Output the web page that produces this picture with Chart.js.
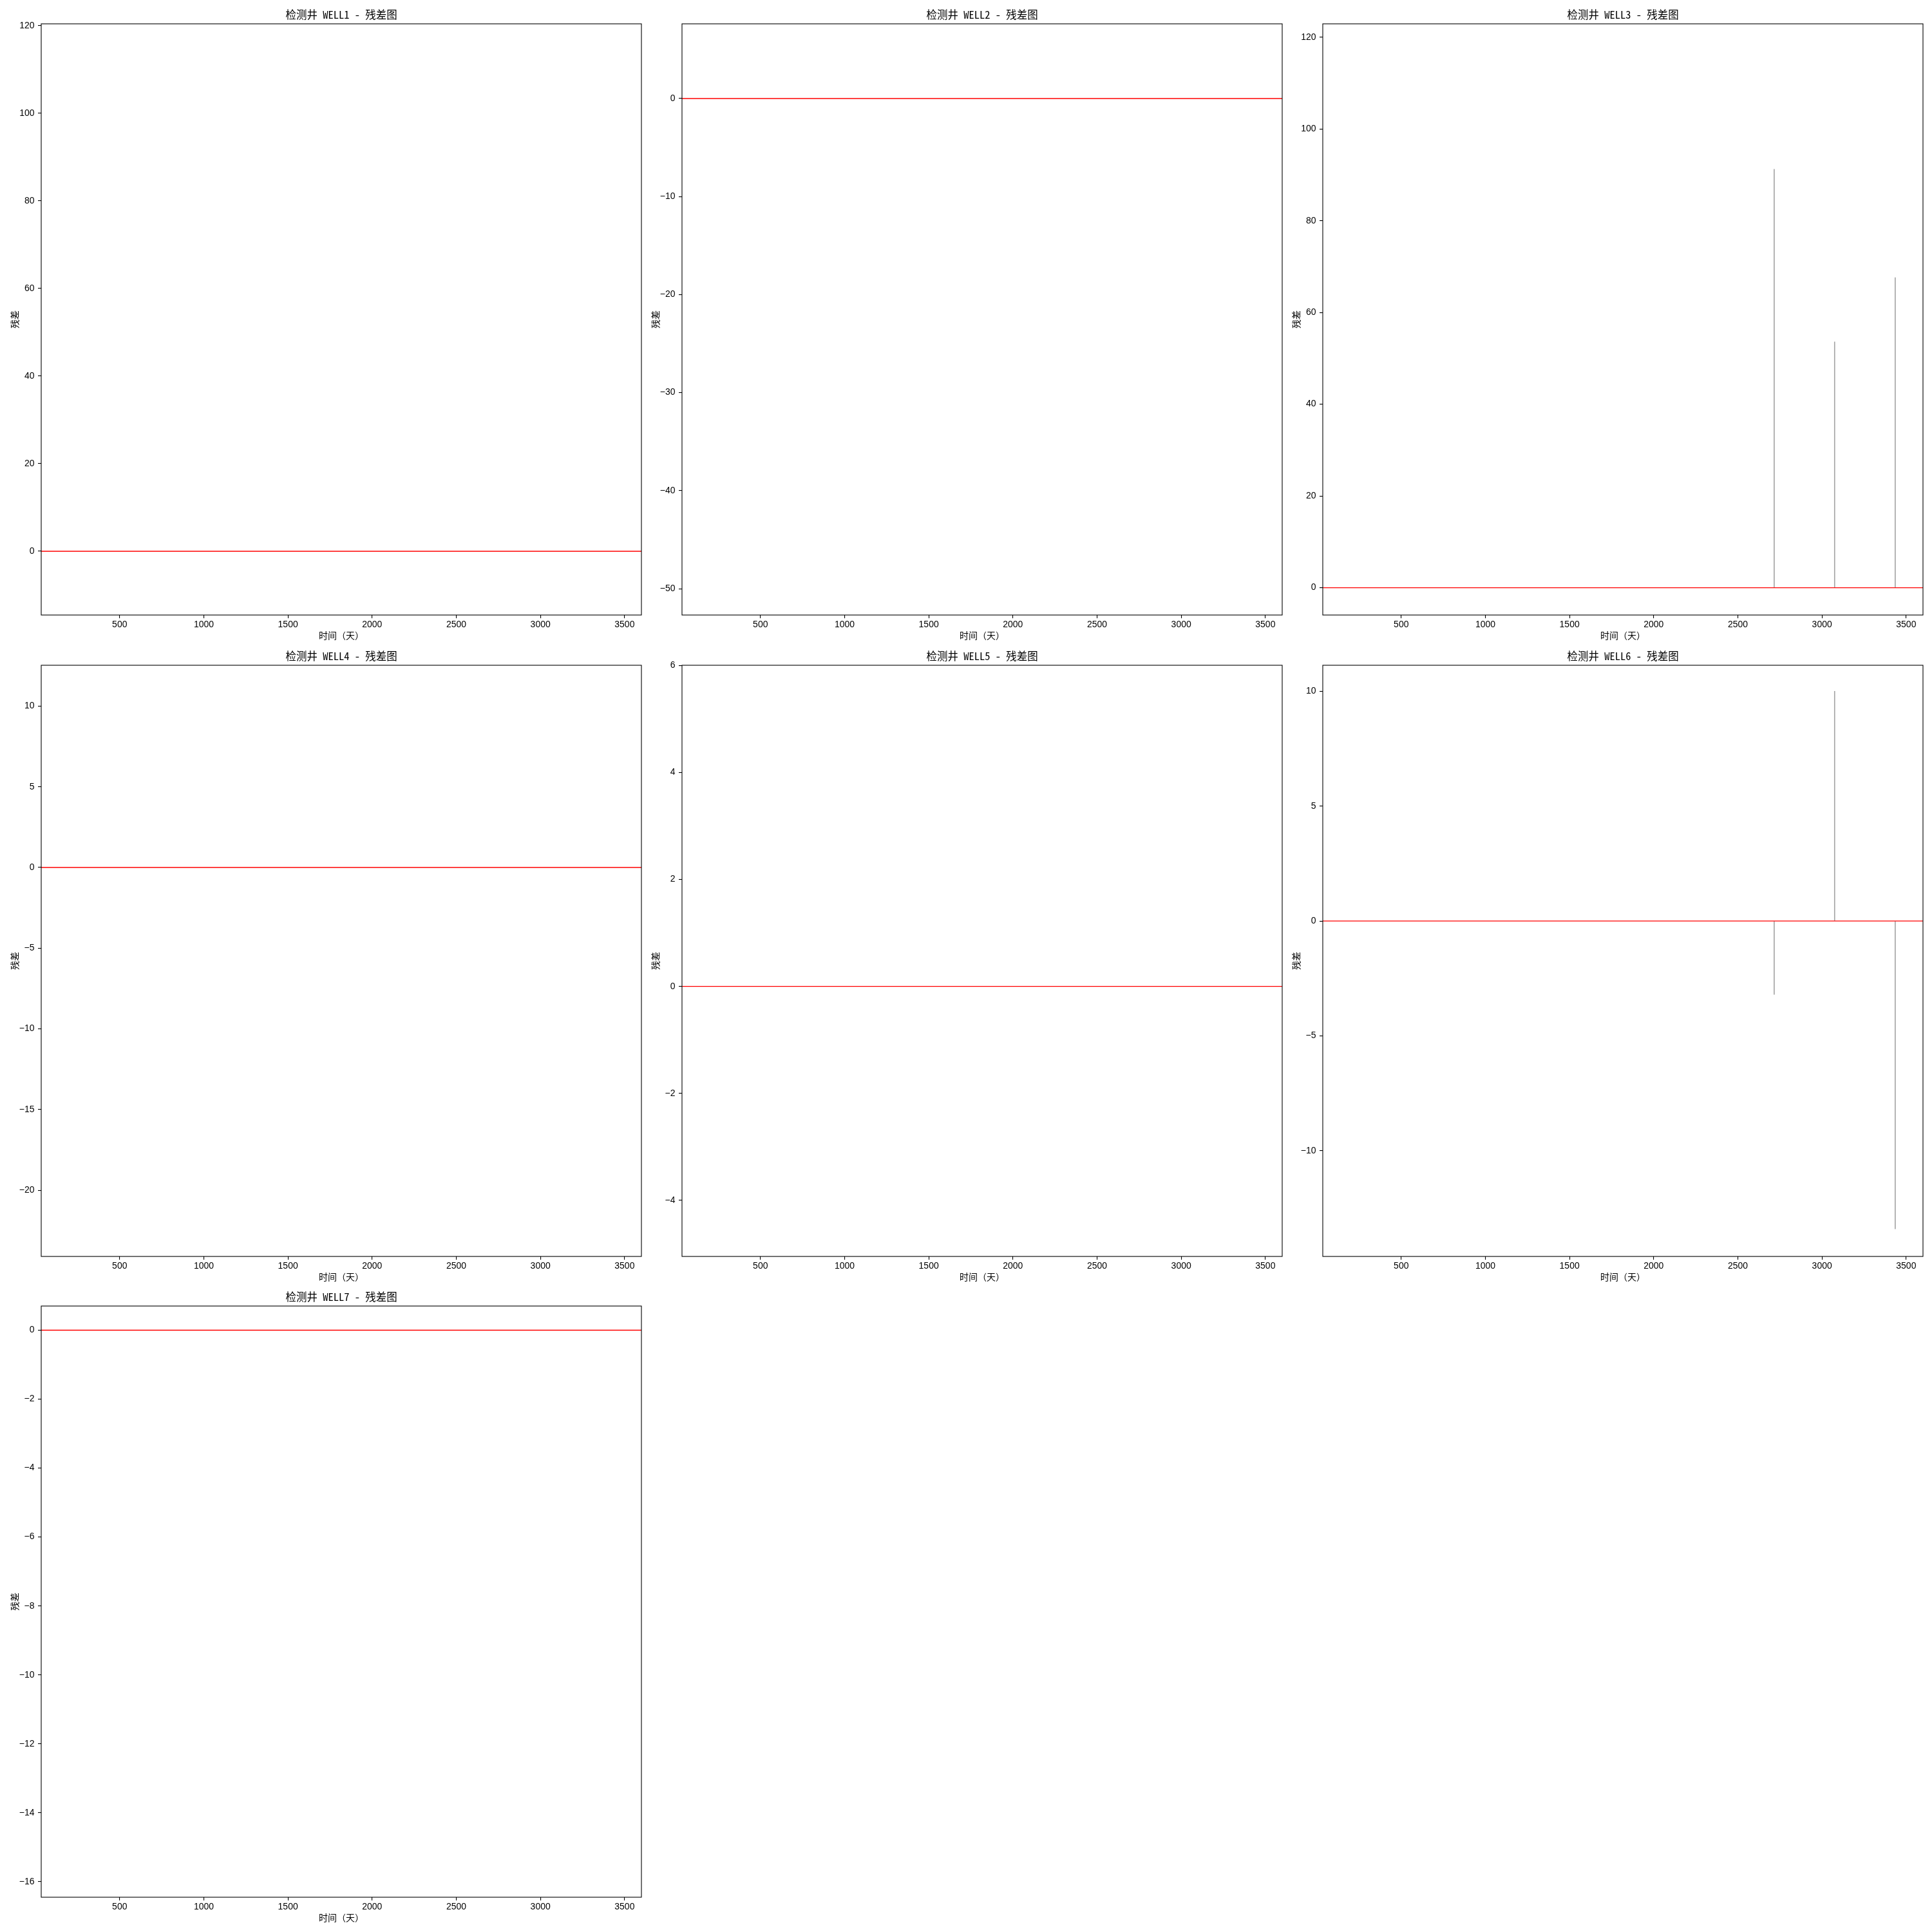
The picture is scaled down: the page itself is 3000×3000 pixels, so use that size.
<!DOCTYPE html>
<html><head><meta charset="utf-8">
<script src="https://cdn.jsdelivr.net/npm/chart.js@4/dist/chart.umd.min.js"></script>
<style>
html,body{margin:0;padding:0;background:#fff;}
body{width:3000px;height:3000px;position:relative;overflow:hidden;}
canvas{position:absolute;}
</style></head><body>
<script>
// ---- data ----
const wells = ['WELL1','WELL2','WELL3','WELL4','WELL5','WELL6','WELL7'];
const titles = wells.map(w => '检测井 ' + w + ' - 残差图');
const xLabel = '时间（天）';
const yLabel = '残差';
const xRange = [34, 3600];
const xTicks = [500, 1000, 1500, 2000, 2500, 3000, 3500];
const yRanges = [[-14.56,120.44],[-52.69,7.62],[-5.95,122.9],[-24.1,12.53],[-5.05,6.005],[-14.6,11.13],[-16.45,0.7]];
const yTicks = [
  [0,20,40,60,80,100,120],
  [-50,-40,-30,-20,-10,0],
  [0,20,40,60,80,100,120],
  [-20,-15,-10,-5,0,5,10],
  [-4,-2,0,2,4,6],
  [-10,-5,0,5,10],
  [-16,-14,-12,-10,-8,-6,-4,-2,0]
];
const residualDays   = [[],[],[2716,3075,3435],[],[],[2716,3075,3435],[]];
const residualValues = [[],[],[91.2,53.6,67.6],[],[],[-3.2,10.0,-13.4],[]];
const zeroLine = [0, 0];

// ---- layout / style ----
const colLefts = [64, 1059, 2054];
const rowTops = [37, 1033, 2028];
const plotW = 932, plotH = 918;
const yAxisW = 64, titleH = 37, xAxisH = 41, rightPad = 3;
const tickFont = {family: "'Liberation Sans Narrow','Liberation Sans',sans-serif", size: 14};
const cjkFamily = "'Noto Sans Mono CJK SC','Noto Sans CJK SC',sans-serif";
const fmt = v => String(v).replace('-', '\u2212');

const framePlugin = {
  id: 'frame',
  afterDraw(chart) {
    const {ctx, chartArea: a} = chart;
    ctx.save();
    ctx.strokeStyle = '#000';
    ctx.lineWidth = 1.1;
    ctx.strokeRect(a.left, a.top, a.right - a.left, a.bottom - a.top);
    ctx.restore();
  }
};

const panelTitlePlugin = {
  id: 'panelTitle',
  afterDraw(chart, args, opts) {
    const {ctx, chartArea: a} = chart;
    ctx.save();
    ctx.font = '16.5px ' + cjkFamily;
    ctx.fillStyle = '#000';
    ctx.textAlign = 'center';
    ctx.textBaseline = 'middle';
    ctx.fillText(opts.text, (a.left + a.right) / 2, a.top - 14);
    ctx.restore();
  }
};

wells.forEach((w, i) => {
  const col = i % 3, row = Math.floor(i / 3);
  const cv = document.createElement('canvas');
  const W = yAxisW + plotW + rightPad, H = titleH + plotH + xAxisH;
  cv.width = W; cv.height = H;
  cv.style.width = W + 'px'; cv.style.height = H + 'px';
  cv.style.left = (colLefts[col] - yAxisW) + 'px';
  cv.style.top = (rowTops[row] - titleH) + 'px';
  document.body.appendChild(cv);

  const bars = residualDays[i].map((d, k) => ({x: d, y: residualValues[i][k]}));
  const line = xRange.map((x, k) => ({x: x, y: zeroLine[k]}));

  new Chart(cv, {
    type: 'bar',
    data: {
      datasets: [
        {type: 'line', data: line, borderColor: '#ff0000', borderWidth: 1.4, pointRadius: 0, fill: false, tension: 0},
        {type: 'bar', data: bars, backgroundColor: '#a6a6a6', borderWidth: 0, barThickness: 1, grouped: false}
      ]
    },
    options: {
      responsive: false,
      animation: false,
      devicePixelRatio: 1,
      layout: {padding: {left: 0, top: titleH, right: rightPad, bottom: 0}},
      plugins: {
        legend: {display: false},
        tooltip: {enabled: false},
        title: {display: false},
        panelTitle: {text: titles[i]}
      },
      scales: {
        x: {
          type: 'linear', min: xRange[0], max: xRange[1], offset: false,
          afterBuildTicks: s => { s.ticks = xTicks.map(v => ({value: v})); },
          afterFit: s => { s.height = xAxisH; },
          grid: {offset: false, drawOnChartArea: false, drawTicks: true, tickLength: 5, color: '#000', lineWidth: 1.1},
          border: {display: false},
          ticks: {color: '#000', font: tickFont, padding: 2, maxRotation: 0, autoSkip: false, callback: v => fmt(v)},
          title: {display: true, text: xLabel, color: '#000', font: {family: cjkFamily, size: 14}, padding: {top: 0, bottom: 0.6}}
        },
        y: {
          type: 'linear', min: yRanges[i][0], max: yRanges[i][1],
          afterBuildTicks: s => { s.ticks = yTicks[i].map(v => ({value: v})); },
          afterFit: s => { s.width = yAxisW; },
          grid: {drawOnChartArea: false, drawTicks: true, tickLength: 5, color: '#000', lineWidth: 1.1},
          border: {display: false},
          ticks: {color: '#000', font: tickFont, padding: 5.5, autoSkip: false, callback: v => fmt(v)},
          title: {display: true, text: yLabel, color: '#000', font: {family: cjkFamily, size: 14}, padding: {top: 14.6, bottom: 0}}
        }
      }
    },
    plugins: [framePlugin, panelTitlePlugin]
  });
});
</script>
</body></html>
